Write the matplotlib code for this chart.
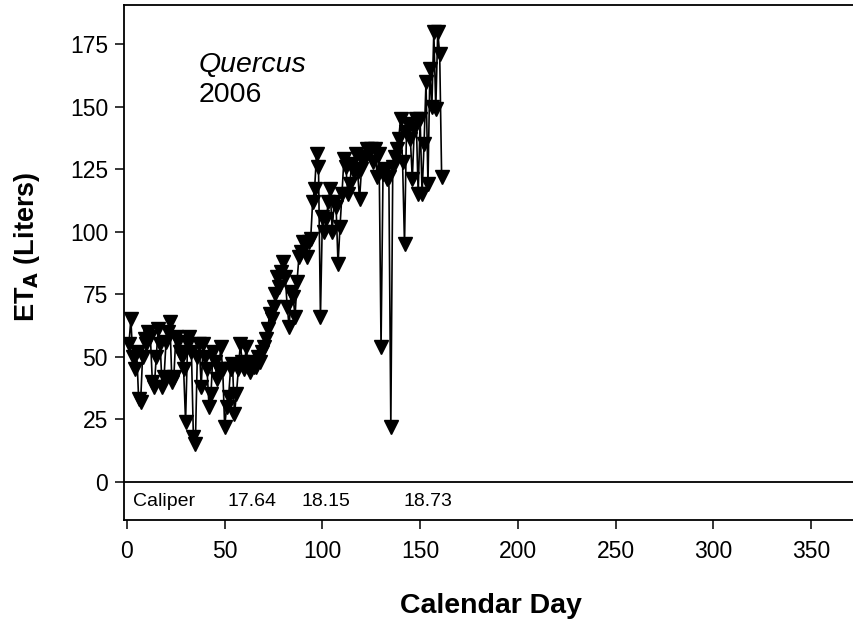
import matplotlib
matplotlib.use("Agg")
import matplotlib.pyplot as plt
import numpy as np

plt.rcParams['font.family'] = ['Liberation Sans', 'DejaVu Sans']

# Daily actual evapotranspiration (liters), Quercus, 2006
days = list(range(1, 162))
et_a = [
    55, 65, 50, 45, 52, 33, 32, 50, 57, 55,
    60, 58, 40, 38, 50, 61, 55, 38, 42, 56,
    60, 64, 40, 42, 58, 56, 52, 50, 45, 24,
    55, 58, 52, 18, 15, 50, 55, 38, 55, 50,
    45, 30, 35, 52, 48, 41, 45, 54, 45, 22,
    30, 34, 45, 47, 27, 35, 45, 55, 48, 45,
    54, 46, 44, 48, 46, 46, 50, 48, 52, 54,
    57, 61, 67, 65, 70, 75, 82, 78, 84, 88,
    82, 70, 62, 76, 74, 66, 80, 90, 92, 96,
    95, 90, 96, 97, 112, 117, 131, 126, 66, 106,
    100, 105, 112, 117, 100, 112, 110, 87, 102, 115,
    129, 126, 115, 119, 127, 124, 131, 124, 113, 125,
    128, 130, 133, 132, 133, 128, 133, 122, 131, 54,
    123, 125, 121, 122, 22, 126, 130, 133, 137, 145,
    128, 95, 140, 143, 137, 121, 141, 145, 115, 145,
    115, 135, 160, 119, 165, 150, 180, 149, 180, 171,
    122,
]

# Stem caliper readings shown along the bottom strip
caliper_days = [64.2, 101.8, 154]
caliper_vals = ["17.64", "18.15", "18.73"]

x_ticks = [0, 50, 100, 150, 200, 250, 300, 350]
y_ticks = [0, 25, 50, 75, 100, 125, 150, 175]

fig = plt.figure(figsize=(8.54, 6.2), dpi=100)
ax = fig.add_axes([124 / 854, 1 - 520 / 620, 734 / 854, 515 / 620])

ax.plot(days, et_a, color='black', lw=1.2, marker='v', markersize=10.5,
        markerfacecolor='black', markeredgecolor='black', zorder=3)

ax.axhline(0, color='black', lw=1.3, zorder=2)

ax.set_xlim(-1.5, 374)
ax.set_ylim(-15.2, 190.6)
ax.set_xticks(x_ticks)
ax.set_yticks(y_ticks)
ax.tick_params(direction='out', length=6.5, width=1.1, labelsize=16.5)
ax.tick_params(axis='x', pad=8)
ax.tick_params(axis='y', pad=5)

for s in ax.spines.values():
    s.set_linewidth(1.3)
ax.spines['right'].set_visible(False)

ax.set_xlabel("Calendar Day", fontsize=20.5, fontweight='bold')
ax.xaxis.set_label_coords(0.5, -0.142)
ax.set_ylabel(r"ET$_\mathbf{A}$ (Liters)", fontsize=19.5, fontweight='bold')
ax.yaxis.set_label_coords(-0.112, 0.53)

ax.text(3, -9.6, "Caliper", fontsize=14, ha='left', va='baseline')
for d, v in zip(caliper_days, caliper_vals):
    ax.text(d, -9.6, v, fontsize=14, ha='center', va='baseline')

ax.text(36.8, 164, "Quercus", fontsize=20.5, style='italic', ha='left', va='baseline')
ax.text(36.8, 151.8, "2006", fontsize=20.5, ha='left', va='baseline')

fig.savefig("out.png", dpi=100)
